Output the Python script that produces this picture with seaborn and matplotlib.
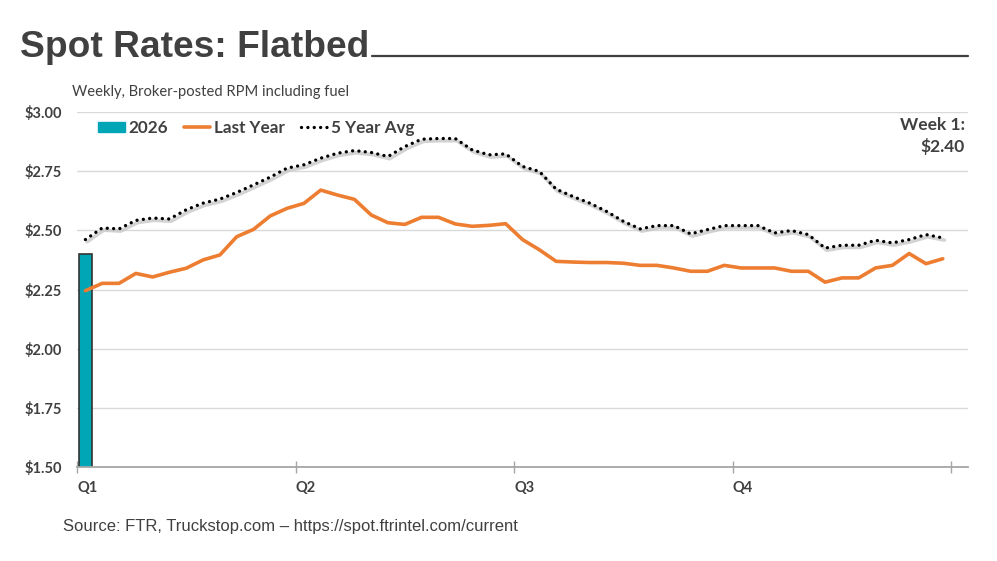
import numpy as np
import pandas as pd
import matplotlib
matplotlib.use("Agg")
import matplotlib.pyplot as plt
import matplotlib.transforms as mtransforms
from matplotlib.patches import Patch
from matplotlib.lines import Line2D
import seaborn as sns

# data (weekly, $ per mile)
weeks = list(range(1, 53))
last_year = [2.245, 2.276, 2.276, 2.318, 2.303, 2.323, 2.340, 2.375, 2.396, 2.473,
             2.504, 2.561, 2.593, 2.614, 2.670, 2.649, 2.631, 2.565, 2.532, 2.525,
             2.555, 2.555, 2.527, 2.517, 2.521, 2.528, 2.461, 2.418, 2.369, 2.366,
             2.364, 2.364, 2.361, 2.352, 2.352, 2.341, 2.327, 2.327, 2.352, 2.341,
             2.341, 2.341, 2.327, 2.327, 2.281, 2.299, 2.299, 2.341, 2.352, 2.402,
             2.359, 2.380]
five_year_avg = [2.461, 2.510, 2.506, 2.542, 2.552, 2.548, 2.587, 2.615, 2.632, 2.660,
                 2.692, 2.725, 2.763, 2.777, 2.805, 2.826, 2.837, 2.829, 2.812, 2.854,
                 2.885, 2.888, 2.888, 2.840, 2.819, 2.823, 2.770, 2.749, 2.674, 2.643,
                 2.615, 2.580, 2.538, 2.506, 2.520, 2.520, 2.485, 2.503, 2.520, 2.520,
                 2.520, 2.489, 2.499, 2.482, 2.425, 2.437, 2.437, 2.458, 2.447, 2.461,
                 2.482, 2.468]
current_weeks = [1]
current_year = [2.40]
quarter_labels = ["Q1", "Q2", "Q3", "Q4", ""]

df = pd.DataFrame({"x": [w - 1 for w in weeks], "last": last_year, "avg": five_year_avg})
cur = pd.DataFrame({"x": [w - 1 for w in current_weeks], "y": current_year})

teal = "#00A6B6"
orange = "#ED7D31"
txt = "#404040"

sns.set_style("white")
plt.rcParams["font.family"] = ["Lato", "DejaVu Sans"]

fig = plt.figure(figsize=(9.97, 5.61), dpi=100)
ax = fig.add_axes([77 / 997, 1 - 467 / 561, 891 / 997, 355 / 561])

sns.barplot(data=cur, x="x", y="y", native_scale=True, width=0.77, color=teal,
            saturation=1, edgecolor="#333333", linewidth=1.2, ax=ax, zorder=2)

sns.lineplot(data=df, x="x", y="last", color=orange, linewidth=2.6, ax=ax, zorder=3)

# grey shadow under the dotted average line
shadow = mtransforms.offset_copy(ax.transData, fig=fig, x=1.2, y=-1.6, units="points")
sns.lineplot(data=df, x="x", y="avg", color="#C8C8C8", linewidth=2.6, alpha=0.8,
             ax=ax, zorder=3, transform=shadow)
sns.lineplot(data=df, x="x", y="avg", color="black", linewidth=2.4, ax=ax, zorder=4)
dots = ax.lines[-1]
dots.set_linestyle((0, (0.01, 1.9)))
dots.set_dash_capstyle("round")

ax.set_xlim(-0.5, 52.5)
ax.set_ylim(1.5, 3.0)
ax.set_yticks(np.arange(1.5, 3.01, 0.25))
ax.set_yticklabels([f"${v:.2f}" for v in np.arange(1.5, 3.01, 0.25)])
ax.set_xticks([-0.5, 12.5, 25.5, 38.5, 51.5])
ax.set_xticklabels(quarter_labels)
for lab in ax.get_xticklabels():
    lab.set_horizontalalignment("left")
ax.set_xlabel("")
ax.set_ylabel("")

ax.yaxis.grid(True, color="#D9D9D9", linewidth=1)
ax.set_axisbelow(True)
for s in ["top", "right", "left"]:
    ax.spines[s].set_visible(False)
ax.spines["bottom"].set_color("#A6A6A6")
ax.spines["bottom"].set_linewidth(1.3)
ax.tick_params(axis="y", length=0, pad=11, labelsize=10.5, labelcolor=txt)
ax.tick_params(axis="x", direction="inout", length=8, width=1, color="#A6A6A6",
               pad=6, labelsize=10.5, labelcolor=txt, bottom=True)
for lab in ax.get_xticklabels() + ax.get_yticklabels():
    lab.set_fontweight("bold")

handles = [Patch(facecolor=teal, edgecolor=teal),
           Line2D([], [], color=orange, linewidth=2.6),
           Line2D([], [], color="black", linewidth=2.4, linestyle=(0, (0.01, 1.9)),
                  dash_capstyle="round")]
leg = ax.legend(handles, ["2026", "Last Year", "5 Year Avg"], ncol=3, frameon=False,
                loc="center left", bbox_to_anchor=(0.016, 0.955), handlelength=1.55,
                handleheight=0.6, handletextpad=0.2, columnspacing=0.95, borderaxespad=0,
                prop={"weight": "bold", "size": 12.3})
for t in leg.get_texts():
    t.set_color(txt)

fig.text(965 / 997, 1 - 117 / 561, "Week 1:\n$2.40", ha="right", va="top",
         fontsize=12.5, fontweight="bold", color=txt, linespacing=1.35)

fig.text(20 / 997, 1 - 57 / 561, "Spot Rates: Flatbed", family=["Liberation Sans", "DejaVu Sans"],
         fontsize=26.7, fontweight="bold", color=txt, va="baseline")
fig.add_artist(Line2D([372 / 997, 968 / 997], [1 - 56 / 561, 1 - 56 / 561],
                      transform=fig.transFigure, color=txt, linewidth=1.6))
fig.text(72 / 997, 1 - 92 / 561, "Weekly, Broker-posted RPM including fuel",
         fontsize=10.65, color=txt, va="center")
fig.text(63 / 997, 1 - 527 / 561, "Source: FTR, Truckstop.com \u2013 https://spot.ftrintel.com/current",
         family=["Liberation Sans", "DejaVu Sans"],
         fontsize=12, color=txt, va="center")

fig.savefig("out.png", dpi=100)
